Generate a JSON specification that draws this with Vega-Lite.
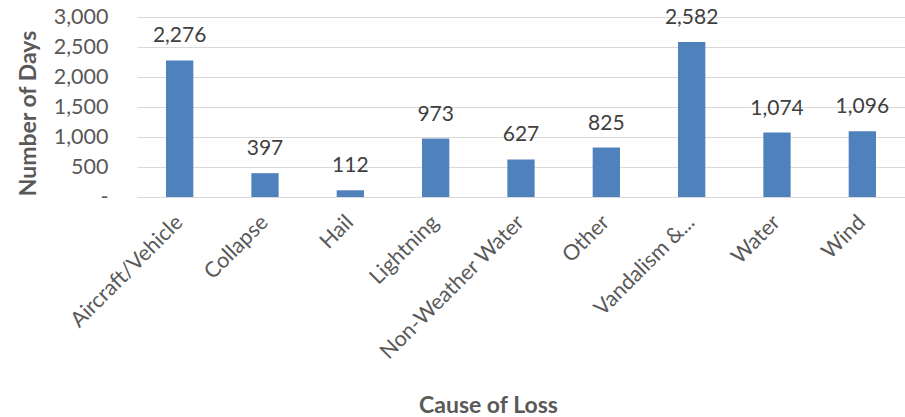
{
  "$schema": "https://vega.github.io/schema/vega-lite/v6.json",
  "autosize": "none",
  "padding": {"left": 137, "top": 17, "right": 0, "bottom": 220},
  "width": 768,
  "height": 180,
  "background": "white",
  "config": {"view": {"stroke": null}, "font": "Lato"},
  "data": {"values": [
    {"cause": "Aircraft/Vehicle", "days": 2276},
    {"cause": "Collapse", "days": 397},
    {"cause": "Hail", "days": 112},
    {"cause": "Lightning", "days": 973},
    {"cause": "Non-Weather Water", "days": 627},
    {"cause": "Other", "days": 825},
    {"cause": "Vandalism &...", "days": 2582},
    {"cause": "Water", "days": 1074},
    {"cause": "Wind", "days": 1096}
  ]},
  "encoding": {
    "x": {"field": "cause", "type": "nominal", "sort": null,
      "scale": {"paddingInner": 0.68, "paddingOuter": 0.34},
      "axis": {"title": "Cause of Loss", "labelAngle": -45, "labelAlign": "right", "labelBaseline": "middle",
        "labelFont": "Lato", "labelFontSize": 21.5, "labelColor": "#595959", "labelPadding": 22,
        "ticks": false, "domainColor": "#D9D9D9", "domainWidth": 1, "labelLimit": 300,
        "titleFont": "Lato", "titleFontSize": 23, "titleFontWeight": "bold", "titleColor": "#595959",
        "titleX": 351, "titleY": 215, "titleBaseline": "alphabetic", "titleAnchor": null, "titleAlign": "center"}},
    "y": {"field": "days", "type": "quantitative",
      "scale": {"domain": [0, 3000], "nice": false},
      "axis": {"title": "Number of Days", "values": [0, 500, 1000, 1500, 2000, 2500, 3000],
        "labelExpr": "datum.value == 0 ? '-' : format(datum.value, ',')",
        "labelFont": "Lato", "labelFontSize": 21.5, "labelColor": "#595959", "labelPadding": 29,
        "ticks": false, "domain": false, "grid": true, "gridColor": "#D9D9D9", "gridWidth": 1,
        "titleFont": "Lato", "titleFontSize": 23, "titleFontWeight": "bold", "titleColor": "#595959",
        "titleX": -102, "titleY": 96, "titleAngle": -90, "titleBaseline": "alphabetic", "titleAlign": "center"}}
  },
  "layer": [
    {"mark": {"type": "bar", "color": "#4F81BD"}},
    {"mark": {"type": "text", "baseline": "alphabetic", "dy": -18, "font": "Lato", "fontSize": 21, "color": "#404040"},
      "encoding": {"text": {"field": "days", "type": "quantitative", "format": ","}}}
  ]
}
